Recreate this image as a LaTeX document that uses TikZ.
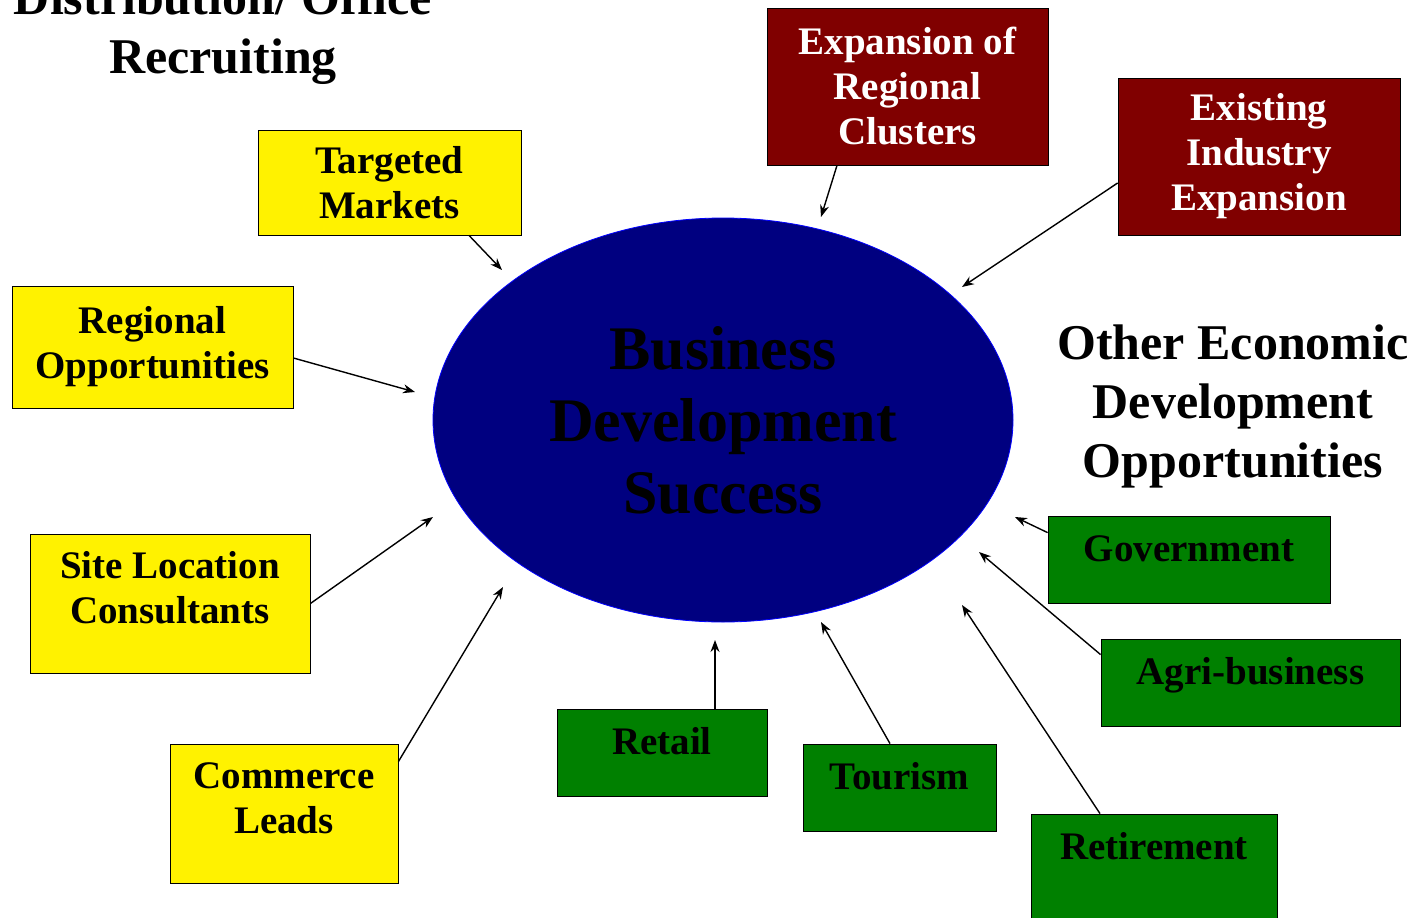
\documentclass[tikz,border=0pt]{standalone}
\usepackage{fontspec}
\setmainfont{Liberation Serif}
\usetikzlibrary{arrows.meta,shapes.geometric}

\definecolor{hubblue}{HTML}{000080}
\definecolor{boxred}{HTML}{800000}
\definecolor{boxgreen}{HTML}{008000}

\begin{document}
\begin{tikzpicture}[x=1pt, y=-1pt, >={Stealth[length=12pt,width=9pt]}, line width=1.4pt]
      \tikzstyle{boxfont}=[font=\fontsize{39}{45}\selectfont\bfseries]
      \tikzstyle{yellowbox}=[draw, line width=0.8pt, fill=yellow, boxfont, align=center, inner sep=0pt]
      \tikzstyle{redbox}=[draw, line width=0.8pt, fill=boxred, text=white, boxfont, align=center, inner sep=0pt]
      \tikzstyle{greenbox}=[draw, line width=0.8pt, fill=boxgreen, boxfont, inner ysep=0pt, text height=45pt, text depth=42pt]
      \tikzstyle{heading}=[font=\fontsize{50}{59}\selectfont\bfseries, align=center]
      \tikzstyle{hub}=[draw=blue, line width=0.8pt, fill=hubblue, ellipse, minimum width=580pt, minimum height=404pt, inner sep=0pt, font=\fontsize{62}{72}\selectfont\bfseries, align=center]

      \useasboundingbox (0,0) rectangle (1419,918);
      \clip (0,0) rectangle (1419,918);

      % centre
      \node[hub] (B) at (723,420) {Business\\Development\\Success};

      % headings
      \node[heading] (HL) at (223,32) {Distribution/ Office\\Recruiting};
      \node[heading] (HR) at (1233,406) {Other Economic\\Development\\Opportunities};

      % left side
      \node[yellowbox, minimum width=263pt, minimum height=105pt] (TM) at (389.5,182.5) {Targeted\\Markets};
      \node[yellowbox, minimum width=281pt, minimum height=122pt] (RO) at (152.5,347) {Regional\\Opportunities};
      \node[yellowbox, minimum width=280pt, minimum height=139pt] (SL) at (170,603.5) {Site Location\\Consultants\\[-12pt]\mbox{}};
      \node[yellowbox, minimum width=228pt, minimum height=139pt] (CL) at (284,813.5) {Commerce\\Leads\\[-15pt]\mbox{}};

      % top right
      \node[redbox, minimum width=281pt, minimum height=157pt] (EX) at (907.5,86.5) {Expansion of\\Regional\\Clusters};
      \node[redbox, minimum width=282pt, minimum height=157pt] (EI) at (1259,156.5) {Existing\\Industry\\Expansion};

      % bottom right
      \node[greenbox, minimum width=282pt] (GOV) at (1189,559.5) {Government};
      \node[greenbox, minimum width=299pt] (AGR) at (1250.5,682.5) {Agri-business};
      \node[greenbox, minimum width=210pt] (RTL) at (662,752.5) {Retail};
      \node[greenbox, minimum width=193pt] (TOU) at (899.5,787.5) {Tourism};
      \node[greenbox, minimum width=246pt, text depth=65pt] (RET) at (1154,869) {Retirement};

      % arrow tips
      \coordinate (TMe) at (502,270);
      \coordinate (ROe) at (415,392);
      \coordinate (SLe) at (433,517);
      \coordinate (CLe) at (503,587);
      \coordinate (EXe) at (821,217);
      \coordinate (EIe) at (962,287);
      \coordinate (GOVe) at (1015,517);
      \coordinate (AGRe) at (979,552);
      \coordinate (RTLe) at (715,640);
      \coordinate (TOUe) at (821,622);
      \coordinate (RETe) at (962,605);

      \draw[->] ([xshift=79.5pt]TM.south) -- (TMe);
      \draw[->] ([yshift=-11pt]RO.east) -- (ROe);
      \draw[->] (SL.east) -- (SLe);
      \draw[->] ([yshift=-18pt]CL.north east) -- (CLe);
      \draw[->] ([xshift=-70.5pt]EX.south) -- (EXe);
      \draw[->] ([yshift=-26.5pt]EI.west) -- (EIe);
      \draw[->] ([yshift=-17pt]GOV.north west) -- (GOVe);
      \draw[->] ([yshift=-16pt]AGR.north west) -- (AGRe);
      \draw[->] ([xshift=53pt]RTL.north) -- (RTLe);
      \draw[->] ([xshift=-9.5pt]TOU.north) -- (TOUe);
      \draw[->] ([xshift=-54pt]RET.north) -- (RETe);
\end{tikzpicture}
\end{document}
